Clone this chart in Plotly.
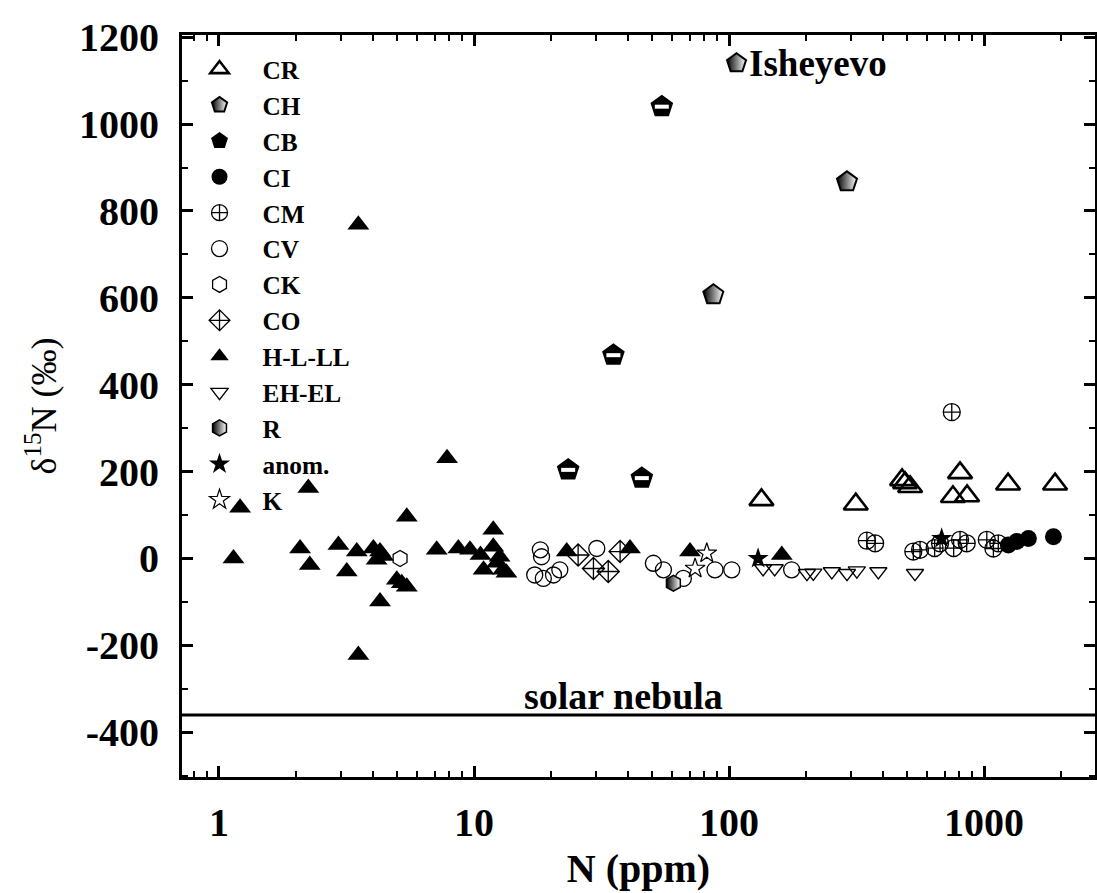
import math
import plotly.graph_objects as go

# ---- N content (ppm) and bulk delta-15N (permil) by chondrite group ----
cr_n = [134, 314, 477, 490, 513, 755, 805, 858, 1242, 1898]
cr_d15n = [135, 125, 181, 174, 165, 142, 197, 144, 171, 171]

ch_n = [86.8, 290]
ch_d15n = [607, 867]

cb_n = [54.5, 35.2, 23.4, 45.5]
cb_d15n = [1040, 468, 204, 185]

ci_n = [1245, 1343, 1492, 1871]
ci_d15n = [31, 39, 46, 50]

cm_n = [747, 347, 374, 528, 561, 640, 672, 760, 805, 855, 1025, 1088, 1137]
cm_d15n = [337, 41, 35, 16, 20, 24, 35, 24, 43, 35, 43, 23, 35]

cv_n = [18.2, 18.4, 17.3, 18.7, 20.5, 21.7, 30.3, 50.5, 55.3, 66.2, 88.1, 102.5, 176]
cv_d15n = [20, 4, -38, -46, -38, -26, 23, -11, -26, -46, -26, -26, -26]

ck_n = [5.13]
ck_d15n = [0]

co_n = [25.6, 29.4, 33.6, 37.4]
co_d15n = [8, -23, -30, 16]

ord_n = [1.21, 1.14, 2.24, 2.08, 2.27, 2.94, 3.17, 3.47, 4.03, 4.28,
         4.15, 4.40, 4.28, 3.52, 3.52, 7.84, 5.45, 4.98, 5.21, 5.45,
         7.14, 8.68, 9.64, 10.6, 11.9, 11.9, 12.6, 10.9, 13.0, 12.3,
         13.4, 23.1, 40.9, 70.3, 161]
ord_d15n = [117, 0, 162, 23, -15, 31, -30, 16, 23, 16,
            -3, 6, -99, -222, 768, 231, 96, -49, -57, -65,
            20, 23, 20, 8, 66, 27, 4, -26, -26, -10,
            -33, 16, 23, 16, 8]

eh_n = [136, 151, 202, 214, 253, 290, 317, 385, 536]
eh_d15n = [-23, -23, -34, -33, -30, -34, -28, -30, -34]

r_n = [60.5]
r_d15n = [-57]

anom_n = [130, 682]
anom_d15n = [0, 46]

k_n = [73.6, 81.8]
k_d15n = [-23, 12]

isheyevo_n = [107]
isheyevo_d15n = [1140]

solar_nebula = -360
solar_label_n = 38.4

# ---- axis ticks ----
x_tick_vals = [1, 10, 100, 1000]
x_tick_text = ["1", "10", "100", "1000"]
x_minor_vals = [m * 10 ** e for e in range(-1, 4) for m in range(2, 10)]
y_tick_vals = [-400, -200, 0, 200, 400, 600, 800, 1000, 1200]
y_tick_text = ["-400", "-200", "0", "200", "400", "600", "800", "1000", "1200"]
y_minor_vals = list(range(-500, 1201, 100))

FONT = "Liberation Serif"
BLACK = "#000000"

fig = go.Figure()


def add_group(name, xs, ys, symbol, size, color=BLACK, line_w=1.5,
              line_color=BLACK, gradient=None, showlegend=True):
    marker = dict(symbol=symbol, size=size, color=color,
                  line=dict(width=line_w, color=line_color))
    if gradient:
        marker["gradient"] = gradient
    fig.add_trace(go.Scatter(
        x=xs, y=ys, mode="markers", name=name, marker=marker,
        legendgroup=name, showlegend=showlegend, cliponaxis=False,
    ))


add_group("CR", cr_n, cr_d15n, "triangle-up-open", 21, line_w=2.6)
add_group("CH", ch_n, ch_d15n, "pentagon", 21, color=BLACK, line_w=2,
          gradient=dict(type="horizontal", color="white"))
add_group("CB", cb_n, cb_d15n, "pentagon", 22, color=BLACK, line_w=1.5)
add_group("CI", ci_n, ci_d15n, "circle", 17, line_w=0)
add_group("CM", cm_n, cm_d15n, "circle-cross-open", 17, line_w=1.3)
add_group("CV", cv_n, cv_d15n, "circle-open", 16, line_w=1.3)
add_group("CK", ck_n, ck_d15n, "hexagon-open", 16, line_w=1.3)
add_group("CO", co_n, co_d15n, "diamond-cross-open", 17, line_w=1.3)
add_group("H-L-LL", ord_n, ord_d15n, "triangle-up", 19, line_w=0)
add_group("EH-EL", eh_n, eh_d15n, "triangle-down-open", 15, line_w=1.3)
add_group("R", r_n, r_d15n, "hexagon", 16, color=BLACK, line_w=1.5,
          gradient=dict(type="horizontal", color="white"))
add_group("anom.", anom_n, anom_d15n, "star", 16, line_w=0)
add_group("K", k_n, k_d15n, "star-open", 15, line_w=1.2)

# white window in the lower half of the CB pentagons
add_group("CB", cb_n, cb_d15n, "line-ew", 10, line_w=4, line_color="white",
          showlegend=False)

# Isheyevo (CH/CB) point with its label
add_group("Isheyevo", isheyevo_n, isheyevo_d15n, "pentagon", 20, color=BLACK,
          line_w=2, gradient=dict(type="horizontal", color="white"),
          showlegend=False)

# solar nebula reference value
fig.add_shape(type="line", xref="paper", x0=0, x1=1, yref="y",
              y0=solar_nebula, y1=solar_nebula,
              line=dict(color=BLACK, width=3))

fig.add_annotation(x=math.log10(solar_label_n), y=solar_nebula, xref="x", yref="y",
                   text="solar nebula", showarrow=False, yanchor="bottom",
                   yshift=-4,
                   font=dict(family=FONT, size=38, color=BLACK, weight="bold"))
fig.add_annotation(x=math.log10(isheyevo_n[0]), y=isheyevo_d15n[0], xref="x", yref="y",
                   text="Isheyevo", showarrow=False, xanchor="left", xshift=10,
                   font=dict(family=FONT, size=37, color=BLACK, weight="bold"))

axis_common = dict(
    showline=True, linecolor=BLACK, linewidth=3, mirror="allticks",
    ticks="inside", ticklen=11, tickwidth=2.5, tickcolor=BLACK,
    showgrid=False, zeroline=False,
    tickfont=dict(family=FONT, size=40, color=BLACK, weight="bold"),
)

fig.update_xaxes(
    type="log", range=[-0.145, 3.435],
    tickmode="array", tickvals=x_tick_vals, ticktext=x_tick_text,
    minor=dict(tickmode="array", tickvals=x_minor_vals, ticks="inside",
               ticklen=6, tickwidth=2, tickcolor=BLACK, showgrid=False),
    title=dict(text="N (ppm)", standoff=10,
               font=dict(family=FONT, size=40, color=BLACK, weight="bold")),
    ticklabelstandoff=8,
    **axis_common,
)
fig.update_yaxes(
    range=[-503, 1205],
    tickmode="array", tickvals=y_tick_vals, ticktext=y_tick_text,
    minor=dict(tickmode="array", tickvals=y_minor_vals, ticks="inside",
               ticklen=6, tickwidth=2, tickcolor=BLACK, showgrid=False),
    title=dict(text="δ<sup>15</sup>N (‰)", standoff=12,
               font=dict(family=FONT, size=36, color=BLACK)),
    ticklabelstandoff=12,
    **axis_common,
)

fig.update_layout(
    width=1097, height=893,
    margin=dict(l=182, r=2, t=35, b=116, autoexpand=False),
    paper_bgcolor="white", plot_bgcolor="white",
    showlegend=True,
    legend=dict(
        x=-0.006, y=0.985, xanchor="left", yanchor="top",
        bgcolor="rgba(0,0,0,0)", borderwidth=0,
        font=dict(family=FONT, size=25.3, color=BLACK, weight="bold"),
        itemwidth=76, tracegroupgap=0, itemclick=False,
    ),
)

fig.write_html("out.html")
